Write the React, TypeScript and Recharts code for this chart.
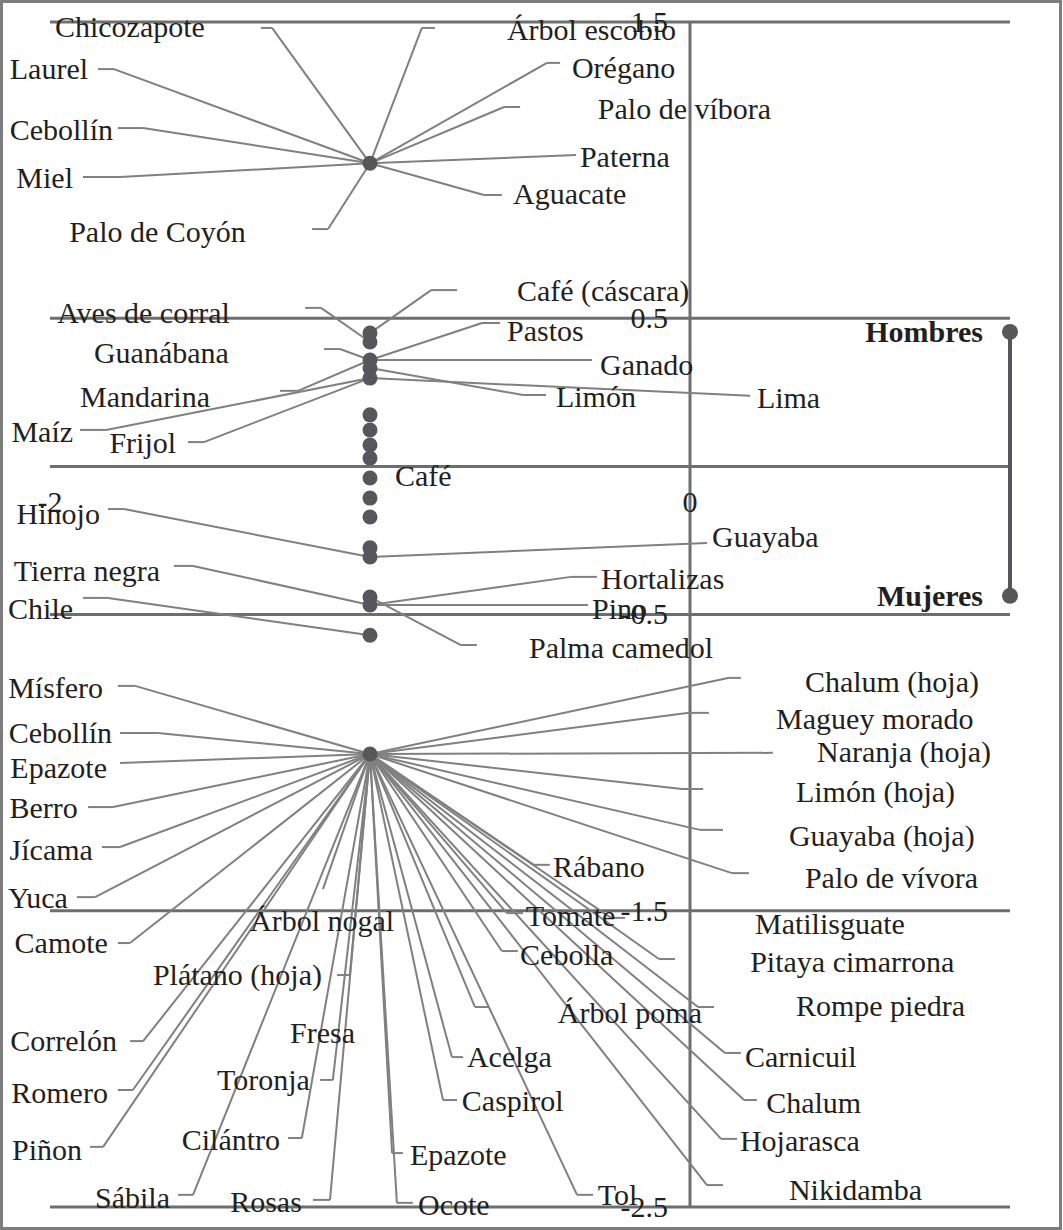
import { ReferenceLine, Scatter, ScatterChart, XAxis, YAxis } from "recharts";

type Tag = {
  name: string;
  dot?: number;
  ex?: number;
  ey?: number;
  hx?: number;
  tx: number;
  ty: number;
  end?: boolean;
};

const FONT = '"Liberation Serif", "Times New Roman", serif';
const INK = "#231f20";
const LEADER = "#808080";
const GRID = "#6e6e6e";
const DOT = "#54575b";

const gridY = [1.5, 0.5, 0, -0.5, -1.5, -2.5];
const gridX = [0];
const yTicks = [1.5, 0.5, -0.5, -1.5, -2.5];
const xTicks = [-2, 0];

// the two clusters hold many items on one point
const topDot = 1.023;
const lowDot = -0.971;
const dotX = -1;

// the column of single dots
const columnDots = [
  0.45, 0.42, 0.359, 0.332, 0.298, 0.174, 0.123, 0.072, 0.028, -0.039, -0.107,
  -0.171, -0.275, -0.306, -0.441, -0.468, -0.57,
];

const topTags: Tag[] = [
  { name: "Chicozapote", ex: -1.306, ey: 1.48, hx: -1.341, tx: -1.516, ty: 1.483, end: true },
  { name: "Árbol escobio", ex: -0.838, ey: 1.48, hx: -0.797, tx: -0.572, ty: 1.473 },
  { name: "Laurel", ex: -1.8, ey: 1.341, hx: -1.85, tx: -1.881, ty: 1.341, end: true },
  { name: "Orégano", ex: -0.447, ey: 1.362, hx: -0.406, tx: -0.369, ty: 1.345 },
  { name: "Palo de víbora", ex: -0.581, ey: 1.213, hx: -0.531, tx: -0.288, ty: 1.206 },
  { name: "Cebollín", ex: -1.709, ey: 1.142, hx: -1.788, tx: -1.803, ty: 1.136, end: true },
  { name: "Paterna", ex: -0.356, ey: 1.051, hx: -0.356, tx: -0.344, ty: 1.044 },
  { name: "Miel", ex: -1.781, ey: 0.977, hx: -1.897, tx: -1.928, ty: 0.974, end: true },
  { name: "Aguacate", ex: -0.644, ey: 0.916, hx: -0.588, tx: -0.553, ty: 0.92 },
  { name: "Palo de Coyón", ex: -1.131, ey: 0.801, hx: -1.181, tx: -1.388, ty: 0.791, end: true },
];

const midTags: Tag[] = [
  { name: "Café (cáscara)", dot: 0.45, ex: -0.809, ey: 0.595, hx: -0.728, tx: -0.541, ty: 0.592 },
  { name: "Aves de corral", dot: 0.42, ex: -1.153, ey: 0.535, hx: -1.203, tx: -1.438, ty: 0.518, end: true },
  { name: "Pastos", dot: 0.359, ex: -0.65, ey: 0.484, hx: -0.594, tx: -0.572, ty: 0.457 },
  { name: "Guanábana", dot: 0.359, ex: -1.094, ey: 0.396, hx: -1.144, tx: -1.441, ty: 0.383, end: true },
  { name: "Ganado", dot: 0.359, ex: -0.306, ey: 0.359, hx: -0.306, tx: -0.281, ty: 0.343 },
  { name: "Mandarina", dot: 0.359, ex: -1.225, ey: 0.255, hx: -1.281, tx: -1.5, ty: 0.234, end: true },
  { name: "Limón", dot: 0.332, ex: -0.522, ey: 0.241, hx: -0.45, tx: -0.419, ty: 0.234 },
  { name: "Lima", dot: 0.298, ex: 0.188, ey: 0.238, hx: 0.188, tx: 0.209, ty: 0.231 },
  { name: "Maíz", dot: 0.298, ex: -1.825, ey: 0.123, hx: -1.906, tx: -1.928, ty: 0.116, end: true },
  { name: "Frijol", dot: 0.298, ex: -1.519, ey: 0.082, hx: -1.569, tx: -1.606, ty: 0.079, end: true },
  { name: "Café", tx: -0.922, ty: -0.032 },
  { name: "Hinojo", dot: -0.306, ex: -1.769, ey: -0.144, hx: -1.819, tx: -1.844, ty: -0.161, end: true },
  { name: "Guayaba", dot: -0.306, ex: 0.053, ey: -0.259, hx: 0.053, tx: 0.069, ty: -0.238 },
  { name: "Tierra negra", dot: -0.468, ex: -1.553, ey: -0.336, hx: -1.613, tx: -1.656, ty: -0.353, end: true },
  { name: "Hortalizas", dot: -0.468, ex: -0.372, ey: -0.373, hx: -0.291, tx: -0.278, ty: -0.38 },
  { name: "Pino", dot: -0.468, ex: -0.319, ey: -0.468, hx: -0.319, tx: -0.306, ty: -0.481 },
  { name: "Palma camedol", dot: -0.441, ex: -0.716, ey: -0.603, hx: -0.666, tx: -0.503, ty: -0.613 },
  { name: "Chile", dot: -0.57, ex: -1.819, ey: -0.444, hx: -1.897, tx: -1.928, ty: -0.481, end: true },
];

const lowTags: Tag[] = [
  { name: "Mísfero", ex: -1.734, ey: -0.741, hx: -1.788, tx: -1.834, ty: -0.748, end: true },
  { name: "Cebollín", ex: -1.663, ey: -0.9, hx: -1.781, tx: -1.806, ty: -0.9, end: true },
  { name: "Epazote", ex: -1.781, ey: -1.001, hx: -1.781, tx: -1.822, ty: -1.018, end: true },
  { name: "Berro", ex: -1.803, ey: -1.15, hx: -1.881, tx: -1.913, ty: -1.153, end: true },
  { name: "Jícama", ex: -1.781, ey: -1.285, hx: -1.838, tx: -1.866, ty: -1.295, end: true },
  { name: "Yuca", ex: -1.859, ey: -1.454, hx: -1.916, tx: -1.944, ty: -1.457, end: true },
  { name: "Camote", ex: -1.75, ey: -1.609, hx: -1.788, tx: -1.819, ty: -1.609, end: true },
  { name: "Árbol nogal", ex: -1.147, ey: -1.427, hx: -1.147, tx: -1.375, ty: -1.534 },
  { name: "Plátano (hoja)", ex: -1.063, ey: -1.717, hx: -1.103, tx: -1.15, ty: -1.717, end: true },
  { name: "Correlón", ex: -1.709, ey: -1.94, hx: -1.75, tx: -1.791, ty: -1.94, end: true },
  { name: "Romero", ex: -1.741, ey: -2.105, hx: -1.788, tx: -1.819, ty: -2.115, end: true },
  { name: "Piñon", ex: -1.834, ey: -2.297, hx: -1.875, tx: -1.9, ty: -2.307, end: true },
  { name: "Fresa", tx: -1.25, ty: -1.913 },
  { name: "Toronja", ex: -1.116, ey: -2.071, hx: -1.156, tx: -1.188, ty: -2.071, end: true },
  { name: "Cilántro", ex: -1.213, ey: -2.267, hx: -1.256, tx: -1.281, ty: -2.274, end: true },
  { name: "Sábila", ex: -1.553, ey: -2.459, hx: -1.6, tx: -1.625, ty: -2.469, end: true },
  { name: "Rosas", ex: -1.125, ey: -2.476, hx: -1.178, tx: -1.213, ty: -2.483, end: true },
  { name: "Ocote", ex: -0.916, ey: -2.486, hx: -0.866, tx: -0.85, ty: -2.493 },
  { name: "Epazote", ex: -0.931, ey: -2.318, hx: -0.897, tx: -0.875, ty: -2.325 },
  { name: "Caspirol", ex: -0.772, ey: -2.139, hx: -0.728, tx: -0.713, ty: -2.142 },
  { name: "Acelga", ex: -0.744, ey: -1.994, hx: -0.709, tx: -0.697, ty: -1.994 },
  { name: "Tol", ex: -0.353, ey: -2.459, hx: -0.303, tx: -0.288, ty: -2.459 },
  { name: "Cebolla", ex: -0.588, ey: -1.636, hx: -0.538, tx: -0.531, ty: -1.649 },
  { name: "Tomate", ex: -0.572, ey: -1.508, hx: -0.522, tx: -0.513, ty: -1.517 },
  { name: "Rábano", ex: -0.488, ey: -1.345, hx: -0.438, tx: -0.428, ty: -1.352 },
  { name: "Árbol poma", ex: -0.672, ey: -1.825, hx: -0.628, tx: -0.413, ty: -1.845 },
  { name: "Matilisguate", ex: -0.247, ey: -1.524, hx: -0.203, tx: 0.203, ty: -1.544 },
  { name: "Pitaya cimarrona", ex: -0.097, ey: -1.663, hx: -0.047, tx: 0.188, ty: -1.673 },
  { name: "Rompe piedra", ex: 0.025, ey: -1.825, hx: 0.075, tx: 0.331, ty: -1.821 },
  { name: "Carnicuil", ex: 0.109, ey: -1.98, hx: 0.159, tx: 0.172, ty: -1.994 },
  { name: "Chalum", ex: 0.169, ey: -2.139, hx: 0.209, tx: 0.238, ty: -2.149 },
  { name: "Hojarasca", ex: 0.097, ey: -2.27, hx: 0.147, tx: 0.156, ty: -2.277 },
  { name: "Nikidamba", ex: 0.053, ey: -2.426, hx: 0.103, tx: 0.309, ty: -2.443 },
  { name: "Chalum (hoja)", ex: 0.119, ey: -0.714, hx: 0.159, tx: 0.359, ty: -0.728 },
  { name: "Maguey morado", ex: -0.003, ey: -0.832, hx: 0.059, tx: 0.269, ty: -0.853 },
  { name: "Naranja (hoja)", ex: 0.259, ey: -0.967, hx: 0.259, tx: 0.397, ty: -0.964 },
  { name: "Limón (hoja)", ex: -0.025, ey: -1.089, hx: 0.041, tx: 0.331, ty: -1.099 },
  { name: "Guayaba (hoja)", ex: 0.031, ey: -1.227, hx: 0.103, tx: 0.309, ty: -1.248 },
  { name: "Palo de vívora", ex: 0.131, ey: -1.373, hx: 0.184, tx: 0.359, ty: -1.39 },
];

// scale bar on the right
const sexes = ["Hombres", "Mujeres"];
const sexY = [0.454, -0.437];
const sexX = 1;

const allTags: Tag[] = [
  ...topTags.map((t) => ({ ...t, dot: topDot })),
  ...midTags,
  ...lowTags.map((t) => ({ ...t, dot: lowDot })),
];

const dotData = [topDot, ...columnDots, lowDot].map((y) => ({ x: dotX, y }));
const textData = allTags.map((t) => ({ x: t.tx, y: t.ty, name: t.name, end: !!t.end }));
const yTickData = yTicks.map((v) => ({ x: 0, y: v, label: String(v) }));
const xTickData = xTicks.map((v) => ({ x: v, y: 0, label: String(v) }));
const sexData = sexes.map((s, i) => ({ x: sexX, y: sexY[i], name: s }));

const TagText = (props: any) => {
  const { cx, cy, payload } = props;
  return (
    <text
      x={cx}
      y={cy}
      dy="0.33em"
      textAnchor={payload.end ? "end" : "start"}
      fontFamily={FONT}
      fontSize={30}
      fill={INK}
    >
      {payload.name}
    </text>
  );
};

const YTick = (props: any) => {
  const { cx, cy, payload } = props;
  return (
    <text x={cx - 22} y={cy} dy="0.33em" textAnchor="end" fontFamily={FONT} fontSize={30} fill={INK}>
      {payload.label}
    </text>
  );
};

const XTick = (props: any) => {
  const { cx, cy, payload } = props;
  return (
    <text x={cx} y={cy + 36} dy="0.33em" textAnchor="middle" fontFamily={FONT} fontSize={30} fill={INK}>
      {payload.label}
    </text>
  );
};

const Dot = (props: any) => <circle cx={props.cx} cy={props.cy} r={7.5} fill={DOT} />;

const SexMark = (props: any) => {
  const { cx, cy, payload } = props;
  return (
    <g>
      <circle cx={cx} cy={cy} r={8} fill={DOT} />
      <text
        x={cx - 27}
        y={cy}
        dy="0.33em"
        textAnchor="end"
        fontFamily={FONT}
        fontSize={30}
        fontWeight="bold"
        fill={INK}
      >
        {payload.name}
      </text>
    </g>
  );
};

export default function App() {
  return (
    <div style={{ position: "absolute", left: 0, top: 0, width: 1063, height: 1230, background: "#fff" }}>
      <ScatterChart width={1063} height={1230} margin={{ top: 22, right: 53, bottom: 23, left: 50 }}>
        <XAxis type="number" dataKey="x" domain={[-2, 1]} hide />
        <YAxis type="number" dataKey="y" domain={[-2.5, 1.5]} hide />

        <Scatter data={textData} shape={TagText} isAnimationActive={false} />
        <Scatter data={yTickData} shape={YTick} isAnimationActive={false} />
        <Scatter data={xTickData} shape={XTick} isAnimationActive={false} />

        {gridY.map((v) => (
          <ReferenceLine key={`gy${v}`} y={v} stroke={GRID} strokeWidth={3} />
        ))}
        {gridX.map((v) => (
          <ReferenceLine key={`gx${v}`} x={v} stroke={GRID} strokeWidth={3} />
        ))}

        <Scatter data={dotData} shape={Dot} isAnimationActive={false} />

        {allTags
          .filter((t) => t.ex !== undefined)
          .map((t, i) => (
            <ReferenceLine
              key={`l${i}`}
              segment={[
                { x: dotX, y: t.dot },
                { x: t.ex, y: t.ey },
              ]}
              stroke={LEADER}
              strokeWidth={2}
            />
          ))}
        {allTags
          .filter((t) => t.ex !== undefined && t.hx !== t.ex)
          .map((t, i) => (
            <ReferenceLine
              key={`h${i}`}
              segment={[
                { x: t.ex, y: t.ey },
                { x: t.hx, y: t.ey },
              ]}
              stroke={LEADER}
              strokeWidth={2}
            />
          ))}

        <ReferenceLine
          segment={[
            { x: sexX, y: sexY[0] },
            { x: sexX, y: sexY[1] },
          ]}
          stroke={DOT}
          strokeWidth={4}
        />
        <Scatter data={sexData} shape={SexMark} isAnimationActive={false} />
      </ScatterChart>
      <div
        style={{
          position: "absolute",
          left: 0,
          top: 0,
          width: 1062,
          height: 1230,
          boxSizing: "border-box",
          border: "3px solid #7d7d7d",
          pointerEvents: "none",
        }}
      />
    </div>
  );
}
